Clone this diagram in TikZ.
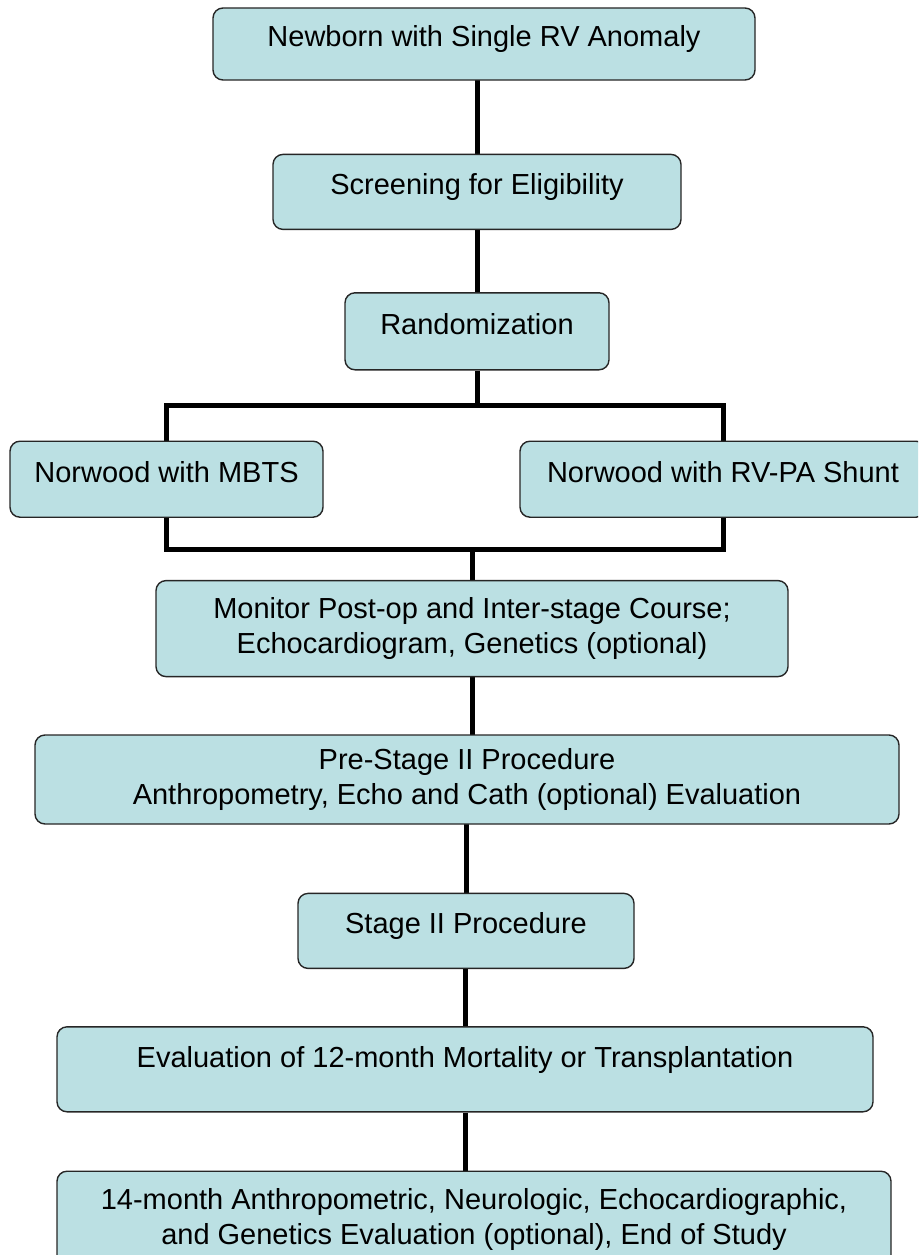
\documentclass[tikz,border=0pt]{standalone}
\usepackage{fontspec}
\setmainfont{Liberation Sans}
\usepackage{tikz}
\usetikzlibrary{positioning, calc, backgrounds}

\definecolor{boxfill}{RGB}{187,224,227}

\begin{document}
\begin{tikzpicture}[
  x=1pt, y=1pt,
  font=\fontsize{29}{34.5}\selectfont,
  box/.style={rectangle, draw=black!85, line width=1.4pt, rounded corners=10pt, fill=boxfill, align=center, inner sep=0pt},
  oneline/.style={text height=21pt, text depth=15pt},
  link/.style={line width=5pt}
]
  \clip (0,0) rectangle (918,-1255);
  \node[box, oneline, minimum width=542pt, minimum height=72pt] (newborn) at (484,-44) {Newborn with Single RV Anomaly};
  \node[box, oneline, minimum width=408pt, minimum height=75pt, below=73pt of newborn, xshift=-7pt] (screen) {Screening for Eligibility};
  \node[box, oneline, minimum width=264pt, minimum height=77pt, below=62pt of screen] (random) {Randomization};
  \node[box, oneline, minimum width=313pt, minimum height=76pt, below=70pt of random, xshift=-310.5pt] (mbts) {Norwood with MBTS};
  \node[box, oneline, minimum width=406pt, minimum height=76pt, below=70pt of random, xshift=246pt] (rvpa) {Norwood with RV-PA Shunt};
  \node[box, minimum width=632pt, minimum height=96pt, below=62pt of mbts, xshift=305.5pt] (monitor) {Monitor Post-op and Inter-stage Course;\\ Echocardiogram, Genetics (optional)};
  \node[box, minimum width=864pt, minimum height=89pt, below=57pt of monitor, xshift=-5pt] (prestage) {Pre-Stage II Procedure\\ Anthropometry, Echo and Cath (optional) Evaluation};
  \node[box, oneline, minimum width=336pt, minimum height=75pt, below=68pt of prestage, xshift=-1pt] (stagetwo) {Stage II Procedure};
  \node[box, text height=21pt, text depth=24pt, minimum width=816pt, minimum height=85pt, below=57pt of stagetwo, xshift=-1pt] (eval) {Evaluation of 12-month Mortality or Transplantation};
  \node[box, minimum width=834pt, minimum height=97pt, below=58pt of eval, xshift=9pt] (final) {14-month Anthropometric, Neurologic, Echocardiographic,\\ and Genetics Evaluation (optional), End of Study};
  \coordinate (split) at ($(random.south)+(0,-35)$);
  \coordinate (merge) at ($(mbts.south)+(0,-32)$);
  \begin{scope}[on background layer]
    \draw[link] (screen) -- (screen |- newborn);
    \draw[link] (random) -- (screen);
    \draw[link] (random) -- (split);
    \draw[link] (mbts) |- (split) -| (rvpa);
    \draw[link] (mbts) |- (merge) -| (rvpa);
    \draw[link] (merge -| monitor) -- (monitor);
    \draw[link] (monitor) -- (monitor |- prestage);
    \draw[link] (stagetwo) -- (stagetwo |- prestage);
    \draw[link] (eval) -- (eval |- stagetwo);
    \draw[link] (eval) -- (eval |- final);
  \end{scope}
\end{tikzpicture}
\end{document}
